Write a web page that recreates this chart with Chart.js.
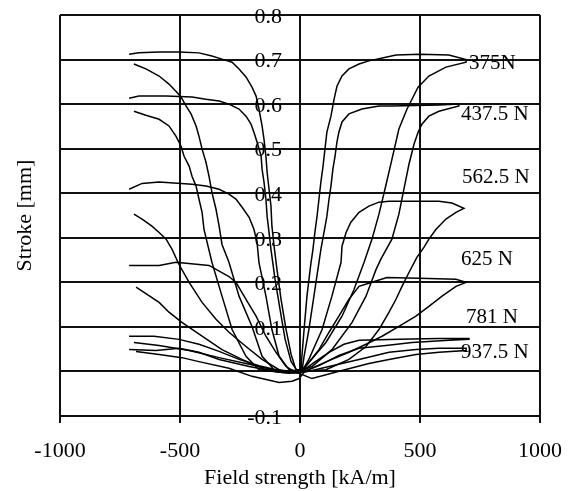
<!DOCTYPE html>
<html>
<head>
<meta charset="utf-8">
<script src="https://cdn.jsdelivr.net/npm/chart.js@4"></script>
<style>
  html, body { margin: 0; padding: 0; background: #fff; }
</style>
</head>
<body>
<canvas id="strokeChart" width="570" height="491"></canvas>
<script>
// Stroke vs field strength, one loop per load (field in kA/m, stroke in mm)
// each path: left return, right rise, right return, left rise
const load375 = [
  [-712,0.712],[-671,0.715],[-587,0.717],[-504,0.717],[-421,0.715],[-367,0.708],[-325,0.701],[-283,0.694],[-254,0.679],[-225,0.661],[-200,0.638],[-183,0.618],[-171,0.589],[-158,0.551],[-150,0.521],[-142,0.483],[-137,0.447],[-129,0.409],[-121,0.371],[-117,0.326],[-108,0.281],[-96,0.229],[-79,0.162],[-58,0.094],[-37,0.038],[-17,0.004],
  [8,0.004],[37,0.02],[108,0.065],[175,0.124],[225,0.184],[267,0.245],[300,0.297],[329,0.353],[354,0.409],[383,0.476],[412,0.544],[446,0.589],[492,0.638],[537,0.663],[608,0.683],[692,0.694],
  [692,0.70],[620,0.71],[500,0.712],[400,0.71],[329,0.702],[287,0.697],[246,0.69],[204,0.679],[175,0.663],[154,0.64],[142,0.611],[129,0.573],[112,0.537],[104,0.499],[96,0.461],[87,0.425],[79,0.387],[71,0.348],[62,0.312],[54,0.274],[46,0.245],[29,0.169],[17,0.094],[8,0.034],[4,0],
  [-25,-0.002],[-108,0.004],[-158,0.034],[-200,0.101],[-254,0.169],[-296,0.245],[-325,0.285],[-337,0.326],[-350,0.364],[-367,0.402],[-379,0.438],[-392,0.47],[-408,0.499],[-421,0.528],[-433,0.551],[-454,0.578],[-475,0.596],[-496,0.616],[-517,0.629],[-546,0.645],[-587,0.663],[-642,0.679],[-692,0.69]
];
const load437 = [
  [-712,0.613],[-671,0.618],[-558,0.618],[-450,0.616],[-392,0.611],[-337,0.607],[-296,0.6],[-254,0.589],[-225,0.573],[-204,0.555],[-192,0.537],[-179,0.515],[-162,0.483],[-158,0.454],[-150,0.425],[-142,0.387],[-137,0.348],[-129,0.312],[-121,0.274],[-104,0.207],[-83,0.139],[-62,0.072],[-37,0.022],[-12,0.002],
  [8,0.002],[50,0.011],[133,0.049],[217,0.11],[275,0.169],[317,0.229],[337,0.252],[383,0.297],[412,0.353],[433,0.409],[454,0.465],[475,0.51],[492,0.537],[508,0.555],[537,0.573],[579,0.584],[662,0.596],
  [662,0.6],[579,0.598],[383,0.596],[329,0.596],[258,0.589],[204,0.578],[175,0.56],[162,0.537],[154,0.515],[146,0.483],[137,0.454],[129,0.416],[121,0.387],[112,0.348],[100,0.312],[87,0.274],[79,0.245],[58,0.169],[37,0.094],[17,0.034],[8,0],
  [-46,-0.004],[-171,0.004],[-225,0.034],[-283,0.094],[-325,0.169],[-367,0.245],[-400,0.319],[-408,0.357],[-421,0.387],[-433,0.416],[-450,0.438],[-462,0.461],[-483,0.483],[-496,0.506],[-517,0.528],[-546,0.551],[-587,0.566],[-642,0.575],[-692,0.584]
];
const load562 = [
  [-712,0.409],[-658,0.422],[-587,0.425],[-450,0.42],[-392,0.416],[-337,0.409],[-296,0.398],[-267,0.387],[-242,0.369],[-212,0.346],[-192,0.319],[-179,0.29],[-171,0.245],[-142,0.169],[-117,0.094],[-87,0.034],[-46,0.004],
  [8,0],[108,0.004],[204,0.027],[275,0.056],[329,0.094],[371,0.133],[400,0.162],[425,0.191],[454,0.222],[487,0.256],[517,0.279],[537,0.297],[567,0.319],[608,0.342],[650,0.357],[683,0.366],
  [633,0.378],[579,0.382],[467,0.382],[371,0.382],[329,0.38],[287,0.371],[246,0.357],[212,0.335],[192,0.312],[175,0.281],[171,0.245],[133,0.169],[92,0.094],[37,0.027],[8,0],
  [-25,-0.002],[-87,0.004],[-158,0.027],[-225,0.056],[-296,0.088],[-350,0.117],[-408,0.155],[-462,0.2],[-504,0.24],[-533,0.274],[-558,0.297],[-587,0.312],[-617,0.326],[-658,0.342],[-692,0.353]
];
const load625 = [
  [-712,0.238],[-587,0.238],[-517,0.245],[-379,0.238],[-296,0.213],[-267,0.2],[-225,0.162],[-183,0.124],[-142,0.079],[-100,0.043],[-58,0.011],[-17,-0.002],
  [17,0],[133,0.027],[204,0.043],[275,0.061],[342,0.079],[412,0.101],[483,0.124],[537,0.146],[592,0.169],[650,0.191],[692,0.2],
  [650,0.207],[496,0.209],[362,0.211],[300,0.2],[246,0.191],[204,0.162],[162,0.124],[121,0.088],[79,0.049],[37,0.02],[8,0],
  [-46,-0.002],[-142,0.004],[-242,0.027],[-325,0.049],[-408,0.079],[-492,0.11],[-546,0.133],[-587,0.155],[-683,0.189]
];
const load781 = [
  [-712,0.079],[-608,0.079],[-504,0.072],[-421,0.061],[-337,0.045],[-254,0.027],[-171,0.013],[-67,0],
  [8,-0.002],[79,0.013],[162,0.036],[246,0.052],[358,0.058],[467,0.065],[621,0.07],[704,0.072],
  [704,0.074],[579,0.074],[412,0.072],[246,0.07],[183,0.061],[121,0.043],[58,0.02],[8,0],
  [-67,-0.002],[-212,0.016],[-337,0.031],[-462,0.047],[-587,0.058],[-692,0.065]
];
const load937 = [
  [-712,0.049],[-600,0.047],[-504,0.052],[-421,0.043],[-337,0.027],[-212,0.011],[-87,-0.002],[-4,-0.004],
  [50,-0.016],[175,0.002],[287,0.018],[371,0.027],[483,0.038],[579,0.043],[692,0.047],
  [692,0.052],[579,0.052],[483,0.049],[371,0.043],[246,0.027],[121,0.011],[17,-0.002],
  [-4,-0.016],[-33,-0.022],[-87,-0.025],[-200,-0.011],[-296,0.007],[-421,0.022],[-492,0.031],[-587,0.038],[-683,0.045]
];

const loadNames = ['375N', '437.5 N', '562.5 N', '625 N', '781 N', '937.5 N'];
const loadSeries = [load375, load437, load562, load625, load781, load937];

const X_MIN = -1000, X_MAX = 1000, X_STEP = 500;
const Y_MIN = -0.1, Y_MAX = 0.8, Y_STEP = 0.1;

// where each load name sits (data units: left edge, vertical centre)
const labelField = [704, 671, 675, 671, 692, 671];
const labelStroke = [0.692, 0.577, 0.435, 0.251, 0.121, 0.042];

const FONT = "'Liberation Serif', 'DejaVu Serif', serif";
Chart.defaults.font.family = FONT;
Chart.defaults.font.size = 22;
Chart.defaults.color = '#000';

const loadLabelPlugin = {
  id: 'loadLabels',
  afterDatasetsDraw(chart) {
    const {ctx, scales: {x, y}} = chart;
    ctx.save();
    ctx.font = '21px ' + FONT;
    ctx.fillStyle = '#000';
    ctx.textAlign = 'left';
    ctx.textBaseline = 'middle';
    loadNames.forEach((name, i) => {
      ctx.fillText(name, x.getPixelForValue(labelField[i]), y.getPixelForValue(labelStroke[i]));
    });
    ctx.restore();
  }
};

// keep axis label overhang from shrinking the plot box
function noPadding(s) {
  s.paddingTop = 0; s.paddingBottom = 0; s.paddingLeft = 0; s.paddingRight = 0;
}

const ctx = document.getElementById('strokeChart').getContext('2d');
new Chart(ctx, {
  type: 'scatter',
  data: {
    datasets: loadSeries.map((pts, i) => ({
      label: loadNames[i],
      data: pts.map(p => ({x: p[0], y: p[1]})),
      showLine: true,
      borderColor: '#000',
      borderWidth: 1.5,
      pointRadius: 0,
      tension: 0,
      fill: false
    }))
  },
  options: {
    responsive: false,
    animation: false,
    layout: { padding: { top: 15, right: 30, left: 0, bottom: 0 } },
    plugins: { legend: { display: false }, tooltip: { enabled: false } },
    scales: {
      x: {
        type: 'linear',
        min: X_MIN, max: X_MAX,
        ticks: { stepSize: X_STEP, padding: 15, callback: v => String(v) },
        grid: { color: '#111', lineWidth: 2, tickLength: 7, tickColor: '#111' },
        border: { display: false },
        title: { display: true, text: 'Field strength [kA/m]', padding: { top: 0, bottom: 0 } },
        afterFit: s => { s.height = 75; noPadding(s); }
      },
      y: {
        type: 'linear',
        position: { x: -75 },
        min: Y_MIN, max: Y_MAX,
        ticks: {
          stepSize: Y_STEP,
          padding: 0,
          labelOffset: 2,
          callback: v => (Math.abs(v) < 1e-9 ? '' : v.toFixed(1))
        },
        grid: { color: '#111', lineWidth: 2, drawTicks: false },
        border: { display: false },
        afterFit: noPadding
      },
      yTitle: {
        type: 'linear',
        position: 'left',
        min: Y_MIN, max: Y_MAX,
        ticks: { display: false },
        grid: { display: false },
        border: { display: false },
        title: { display: true, text: 'Stroke [mm]', padding: { top: 12, bottom: 0 } },
        afterFit: s => { s.width = 60; noPadding(s); }
      }
    }
  },
  plugins: [loadLabelPlugin]
});
</script>
</body>
</html>
